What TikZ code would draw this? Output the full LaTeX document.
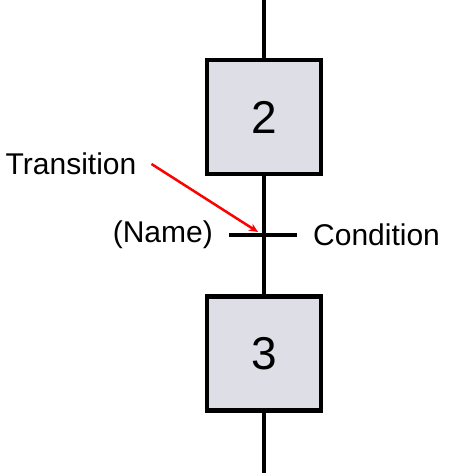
\documentclass[tikz,border=0pt]{standalone}
\usepackage{fontspec}
\setmainfont{Liberation Sans}
\usetikzlibrary{arrows.meta,positioning}

\definecolor{stepfill}{RGB}{222,222,230}

\tikzset{
	stepbox/.style={draw=black, line width=4.5pt, fill=stepfill, minimum width=114pt, minimum height=114pt, inner sep=0pt, font=\fontsize{46}{50}\selectfont},
	flow/.style={draw=black, line width=4.5pt},
	lbl/.style={inner sep=0pt, font=\fontsize{30}{36}\selectfont},
}

\begin{document}
\begin{tikzpicture}[x=1pt, y=-1pt]
\useasboundingbox (0,0) rectangle (450,473);

% steps
\node[stepbox] (s2) at (264,117) {2};
\node[stepbox] (s3) at (264,353.5) {3};

\coordinate (top) at (264,0);
\coordinate (bot) at (264,473);
\coordinate (tr) at (264,235);

% flow line
\draw[flow]
	(top)	-- (s2.north)
	(s2.south)	-- (s3.north)
	(s3.south)	-- (bot)
;
% transition bar
\draw[flow] ([xshift=-35pt]tr) -- ([xshift=33pt]tr);

\node[lbl, anchor=east] (name) at (213,235) {(Name)};
\node[lbl, anchor=west] (cond) at (313,235) {Condition};
\node[lbl] (trlabel) at (71,164) {Transition};

\draw[red, line width=2.5pt, -{Stealth[length=9pt, width=8pt]}]
	([xshift=15pt]trlabel.east) -- ([xshift=-6pt, yshift=3pt]tr);
\end{tikzpicture}
\end{document}
